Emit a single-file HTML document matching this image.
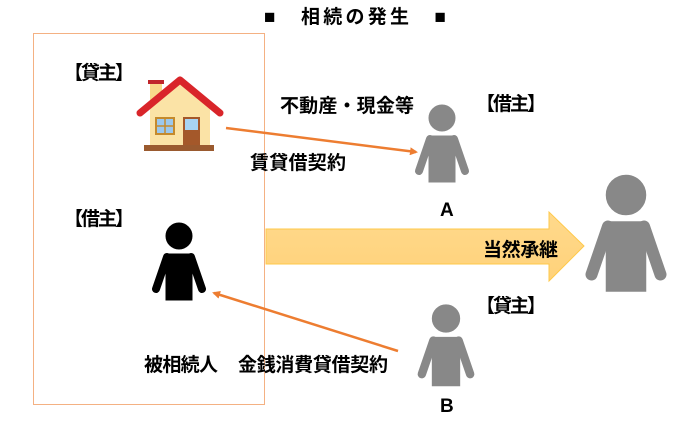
<!DOCTYPE html>
<html><head><meta charset="utf-8"><style>
html,body{margin:0;padding:0;background:#fff}
svg{display:block}
text{font-family:"Liberation Sans","Noto Sans CJK JP",sans-serif;font-weight:bold;font-size:19px;fill:#000}
</style></head><body>
<svg width="694" height="432" viewBox="0 0 694 432" xmlns="http://www.w3.org/2000/svg">
<defs>
<g id="p">
<circle cx="0" cy="-30" r="13"/>
<path d="M-13,-12 H13 V34 H-13 Z"/>
<line x1="-12" y1="-9" x2="-23" y2="23" stroke-width="8" stroke-linecap="round"/>
<line x1="12" y1="-9" x2="23" y2="23" stroke-width="8" stroke-linecap="round"/>
</g>
<marker id="ah" markerWidth="8" markerHeight="8" refX="6" refY="4" orient="auto" markerUnits="userSpaceOnUse"><path d="M0,0 L8,4 L0,8 Z" fill="#ED7D31"/></marker>
<linearGradient id="g" x1="0" y1="0" x2="0" y2="1"><stop offset="0" stop-color="#FFD98C"/><stop offset="1" stop-color="#FFD27A"/></linearGradient>
</defs>
<text x="264" y="23" textLength="182">■　相続の発生　■</text>
<rect x="33.5" y="33.5" width="231" height="371" fill="none" stroke="#F4B183" stroke-width="1"/>
<text x="64" y="79" textLength="70">【貸主】</text>
<text x="64" y="225" textLength="70">【借主】</text>
<text x="280" y="112" textLength="134">不動産・現金等</text>
<text x="476" y="110" textLength="70">【借主】</text>
<text x="250" y="169" textLength="96">賃貸借契約</text>
<text x="440" y="216">A</text>
<text x="476" y="312" textLength="70">【貸主】</text>
<text x="144" y="371" textLength="74">被相続人</text>
<text x="238" y="371" textLength="150">金銭消費貸借契約</text>
<text x="440" y="412">B</text>
<g>
<rect x="150" y="80" width="12" height="20" fill="#F9D98A"/>
<rect x="148" y="80" width="16" height="4" fill="#C0262B"/>
<path d="M150,104 L180,82 L210,104 V146 H150 Z" fill="#FBE3A6"/>
<path d="M140,113 L180,80 L220,113" fill="none" stroke="#D9252A" stroke-width="7" stroke-linejoin="round" stroke-linecap="round"/>
<rect x="156" y="118" width="18" height="16" fill="#9CC8EC" stroke="#C58A2C" stroke-width="2"/>
<line x1="165" y1="118" x2="165" y2="134" stroke="#C58A2C" stroke-width="1.5"/>
<line x1="156" y1="126" x2="174" y2="126" stroke="#C58A2C" stroke-width="1.5"/>
<rect x="183" y="117" width="17" height="29" fill="#A4582A"/>
<rect x="185" y="119" width="13" height="11" fill="#A8D4F2"/>
<rect x="144" y="145" width="70" height="6" fill="#9A5A2F"/>
</g>
<line x1="226" y1="128" x2="416" y2="152" stroke="#ED7D31" stroke-width="2.5" marker-end="url(#ah)"/>
<line x1="398" y1="351" x2="214" y2="293" stroke="#ED7D31" stroke-width="2.5" marker-end="url(#ah)"/>
<path d="M266,229 H549 V212 L584,246 L549,281 V264 H266 Z" fill="url(#g)" stroke="#FFC94A" stroke-width="1"/>
<text x="483" y="256" textLength="75">当然承継</text>
<use href="#p" fill="#000" stroke="#000" transform="translate(179,266)"/>
<use href="#p" fill="#888" stroke="#888" transform="translate(442,148)"/>
<use href="#p" fill="#888" stroke="#888" transform="translate(446,350) scale(1.05)"/>
<use href="#p" fill="#888" stroke="#888" transform="translate(626,240) scale(1.5)"/>
</svg>
</body></html>
